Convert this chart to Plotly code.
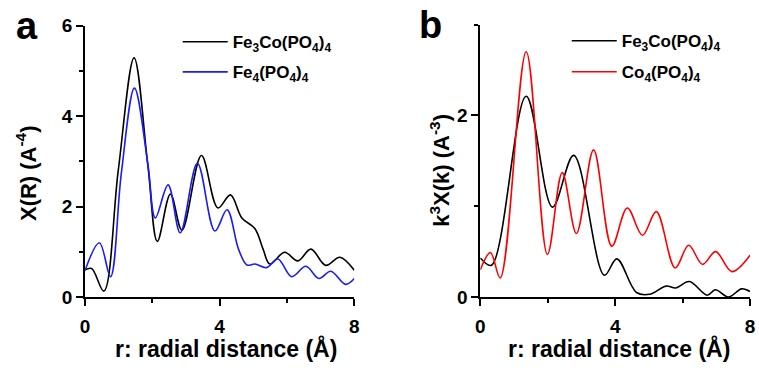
import plotly.graph_objects as go

# ---- Panel a : X(R) ----
a_fe3co_x = [0.0, 0.2, 0.56, 0.99, 1.46, 1.87, 2.15, 2.54, 2.88, 3.46, 3.95, 4.32, 4.66, 5.05, 5.29, 5.49, 5.93, 6.32, 6.71, 7.15, 7.57, 8.0]
a_fe3co_y = [0.60, 0.63, 0.13, 2.80, 5.29, 2.90, 1.23, 2.28, 1.48, 3.13, 1.97, 2.26, 1.75, 1.51, 1.06, 0.73, 0.99, 0.80, 1.06, 0.70, 0.88, 0.59]

a_fe4_x = [0.0, 0.43, 0.76, 1.08, 1.47, 1.87, 2.09, 2.47, 2.83, 3.34, 3.86, 4.22, 4.56, 4.81, 5.05, 5.39, 5.73, 6.14, 6.56, 6.95, 7.30, 7.74, 8.0]
a_fe4_y = [0.58, 1.20, 0.45, 2.73, 4.62, 2.94, 1.75, 2.48, 1.42, 2.96, 1.46, 1.93, 1.06, 0.71, 0.73, 0.65, 0.84, 0.45, 0.68, 0.41, 0.57, 0.28, 0.41]

# ---- Panel b : k3X(k) ----
b_fe3co_x = [0.0, 0.33, 1.36, 2.14, 2.77, 3.68, 4.05, 4.63, 5.02, 5.51, 5.80, 6.20, 6.73, 6.97, 7.36, 7.75, 8.0]
b_fe3co_y = [0.43, 0.35, 2.21, 0.99, 1.56, 0.24, 0.42, 0.05, 0.03, 0.12, 0.10, 0.17, 0.02, 0.08, 0.00, 0.09, 0.06]

b_co4_x = [0.0, 0.30, 0.59, 1.36, 1.99, 2.43, 2.85, 3.36, 3.90, 4.36, 4.81, 5.22, 5.78, 6.18, 6.59, 6.98, 7.46, 8.0]
b_co4_y = [0.30, 0.49, 0.21, 2.70, 0.47, 1.37, 0.70, 1.62, 0.56, 0.98, 0.68, 0.94, 0.32, 0.57, 0.36, 0.50, 0.28, 0.46]

name_fe3co = "Fe<sub>3</sub>Co(PO<sub>4</sub>)<sub>4</sub>"
name_fe4 = "Fe<sub>4</sub>(PO<sub>4</sub>)<sub>4</sub>"
name_co4 = "Co<sub>4</sub>(PO<sub>4</sub>)<sub>4</sub>"

FONT = "Liberation Sans, Arial, sans-serif"

fig = go.Figure()
fig.add_trace(go.Scatter(x=a_fe3co_x, y=a_fe3co_y, mode="lines", name=name_fe3co,
                         line=dict(color="black", width=1.6, shape="spline", smoothing=1.0),
                         xaxis="x", yaxis="y", legend="legend", legendgroup="a1"))
fig.add_trace(go.Scatter(x=a_fe4_x, y=a_fe4_y, mode="lines", name=name_fe4,
                         line=dict(color="#1a1aff", width=1.6, shape="spline", smoothing=1.0),
                         xaxis="x", yaxis="y", legend="legend", legendgroup="a2"))
fig.add_trace(go.Scatter(x=b_fe3co_x, y=b_fe3co_y, mode="lines", name=name_fe3co,
                         line=dict(color="black", width=1.6, shape="spline", smoothing=1.0),
                         xaxis="x2", yaxis="y2", legend="legend2", legendgroup="b1"))
fig.add_trace(go.Scatter(x=b_co4_x, y=b_co4_y, mode="lines", name=name_co4,
                         line=dict(color="#ff0000", width=1.6, shape="spline", smoothing=1.0),
                         xaxis="x2", yaxis="y2", legend="legend2", legendgroup="b2"))

axis_common = dict(showline=True, linecolor="black", linewidth=1.8, ticks="outside",
                   ticklen=7, tickwidth=1.8, tickcolor="black", showgrid=False, zeroline=False,
                   tickfont=dict(family=FONT, size=19, color="black", weight="bold"),
                   minor=dict(ticks="outside", ticklen=4, tickwidth=1.5, tickcolor="black", showgrid=False))

ydom = [0.1915, 0.9556]
fig.update_layout(
    width=759, height=376,
    margin=dict(l=0, r=0, t=0, b=0),
    paper_bgcolor="white", plot_bgcolor="white",
    showlegend=True,
    xaxis=dict(domain=[0.1067, 0.4664], range=[0, 8], dtick=4, tick0=0, anchor="y",
               ticklabelstandoff=4, minor_dtick=2, **axis_common),
    yaxis=dict(domain=ydom, range=[0, 6], dtick=2, tick0=0, anchor="x",
               minor_dtick=1, **axis_common),
    xaxis2=dict(domain=[0.6346, 0.9947], range=[0, 8], dtick=4, tick0=0, anchor="y2",
                ticklabelstandoff=4, minor_dtick=2, **axis_common),
    yaxis2=dict(domain=[0.1915, 0.959], range=[0, 3], dtick=2, tick0=0, anchor="x2",
                minor_dtick=1, **axis_common),
    legend=dict(x=0.2306, y=0.96, xanchor="left", yanchor="top", bgcolor="rgba(0,0,0,0)",
                font=dict(family=FONT, size=17, color="black", weight="bold"),
                tracegroupgap=5, itemwidth=45),
    legend2=dict(x=0.750, y=0.963, xanchor="left", yanchor="top", bgcolor="rgba(0,0,0,0)",
                 font=dict(family=FONT, size=17, color="black", weight="bold"),
                 tracegroupgap=6, itemwidth=45),
)

title_font = dict(family=FONT, size=23, color="black", weight="bold")
ytitle_font = dict(family=FONT, size=22, color="black", weight="bold")
fig.add_annotation(text="r: radial distance (Å)", x=224 / 759, y=1 - 359 / 376, xref="paper", yref="paper",
                   showarrow=False, font=title_font, xanchor="center", yanchor="middle")
fig.add_annotation(text="r: radial distance (Å)", x=622 / 759, y=1 - 359 / 376, xref="paper", yref="paper",
                   showarrow=False, font=title_font, xanchor="center", yanchor="middle")
fig.add_annotation(text="X(R) (A<sup>-4</sup>)", x=22 / 759, y=1 - 173 / 376, xref="paper", yref="paper",
                   showarrow=False, font=ytitle_font, textangle=-90, xanchor="center", yanchor="middle")
fig.add_annotation(text="k<sup>3</sup>X(k) (A<sup>-3</sup>)", x=440 / 759, y=1 - 170 / 376, xref="paper", yref="paper",
                   showarrow=False, font=ytitle_font, textangle=-90, xanchor="center", yanchor="middle")
panel_font = dict(family=FONT, size=38, color="black", weight="bold")
fig.add_annotation(text="a", x=22 / 759, y=1 - 17 / 376, xref="paper", yref="paper",
                   showarrow=False, font=panel_font, xanchor="center", yanchor="middle")
fig.add_annotation(text="b", x=431 / 759, y=1 - 16 / 376, xref="paper", yref="paper",
                   showarrow=False, font=panel_font, xanchor="center", yanchor="middle")

fig.write_html("out.html")
